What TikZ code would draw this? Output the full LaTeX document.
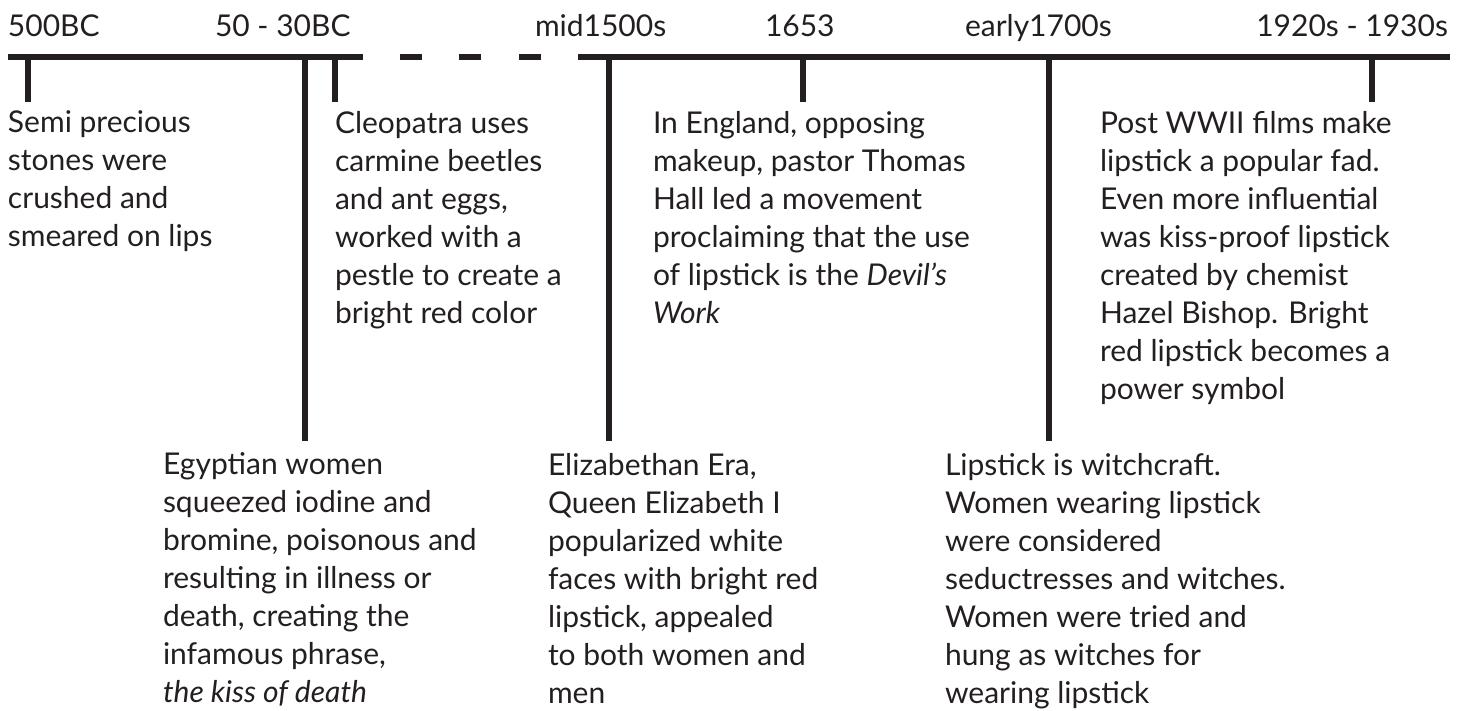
\documentclass[tikz,border=0pt]{standalone}
\usepackage{fontspec}
\setmainfont{Lato}
\usepackage{xcolor}
\definecolor{ink}{RGB}{35,31,32}
\usetikzlibrary{positioning}

\begin{document}
\begin{tikzpicture}[
  x=1pt, y=-1pt,
  every node/.style={inner sep=0pt, outer sep=0pt, text=ink,
    font=\fontsize{30}{38}\selectfont},
  datelabel/.style={anchor=base west},
  event/.style={anchor=north west, align=left},
  axis/.style={draw=ink, line width=6pt},
  tick/.style={draw=ink, line width=6pt},
]
\useasboundingbox (0,0) rectangle (1465,711);

% time axis
\draw[axis] (8,57) -- (363,57);
\foreach \x in {400,459,519}
  \draw[axis] (\x,57) -- ++(22,0);
\draw[axis] (578,57) -- (1450,57);

% dates
\node[datelabel] (d500)   at (8,37)   {500BC};
\node[datelabel] (d50)    at (215,37) {50 - 30BC};
\node[datelabel] (dmid)   at (535,37) {mid1500s};
\node[datelabel] (d1653)  at (765,37) {1653};
\node[datelabel] (dearly) at (965,37) {early1700s};
\node[datelabel, anchor=base east] (d1920) at (1448,37) {1920s - 1930s};

% events above
\node[event] (stones) at (8,111) {Semi precious\\stones were\\crushed and\\smeared on lips};
\node[event] (cleo) at (335,111) {Cleopatra uses\\carmine beetles\\and ant eggs,\\worked with a\\pestle to create a\\bright red color};
\node[event] (hall) at (653,111) {In England, opposing\\makeup, pastor Thomas\\Hall led a movement\\proclaiming that the use\\of lipstick is the \textit{Devil’s}\\\textit{Work}};
\node[event] (wwii) at (1100,111) {Post WWII films make\\lipstick a popular fad.\\Even more influential\\was kiss-proof lipstick\\created by chemist\\Hazel Bishop. Bright\\red lipstick becomes a\\power symbol};

% events below
\node[event] (egypt) at (163,453) {Egyptian women\\squeezed iodine and\\bromine, poisonous and\\resulting in illness or\\death, creating the\\infamous phrase,\\\textit{the kiss of death}};
\node[event] (eliza) at (548,453) {Elizabethan Era,\\Queen Elizabeth I\\popularized white\\faces with bright red\\lipstick, appealed\\to both women and\\men};
\node[event] (witch) at (945,453) {Lipstick is witchcraft.\\Women wearing lipstick\\were considered\\seductresses and witches.\\Women were tried and\\hung as witches for\\wearing lipstick};

% ticks
\coordinate (t500a) at (28,57);    \coordinate (t500b) at (28,102);
\coordinate (t50a) at (305,57);    \coordinate (t50b) at (305,441);
\coordinate (tcleoa) at (335,57);  \coordinate (tcleob) at (335,102);
\coordinate (tmida) at (609,57);   \coordinate (tmidb) at (609,441);
\coordinate (t1653a) at (803,57);  \coordinate (t1653b) at (803,102);
\coordinate (tearlya) at (1049,57); \coordinate (tearlyb) at (1049,441);
\coordinate (t1920a) at (1372,57); \coordinate (t1920b) at (1372,102);
\draw[tick] (t500a) -- (t500b);
\draw[tick] (t50a) -- (t50b);
\draw[tick] (tcleoa) -- (tcleob);
\draw[tick] (tmida) -- (tmidb);
\draw[tick] (t1653a) -- (t1653b);
\draw[tick] (tearlya) -- (tearlyb);
\draw[tick] (t1920a) -- (t1920b);
\end{tikzpicture}
\end{document}
